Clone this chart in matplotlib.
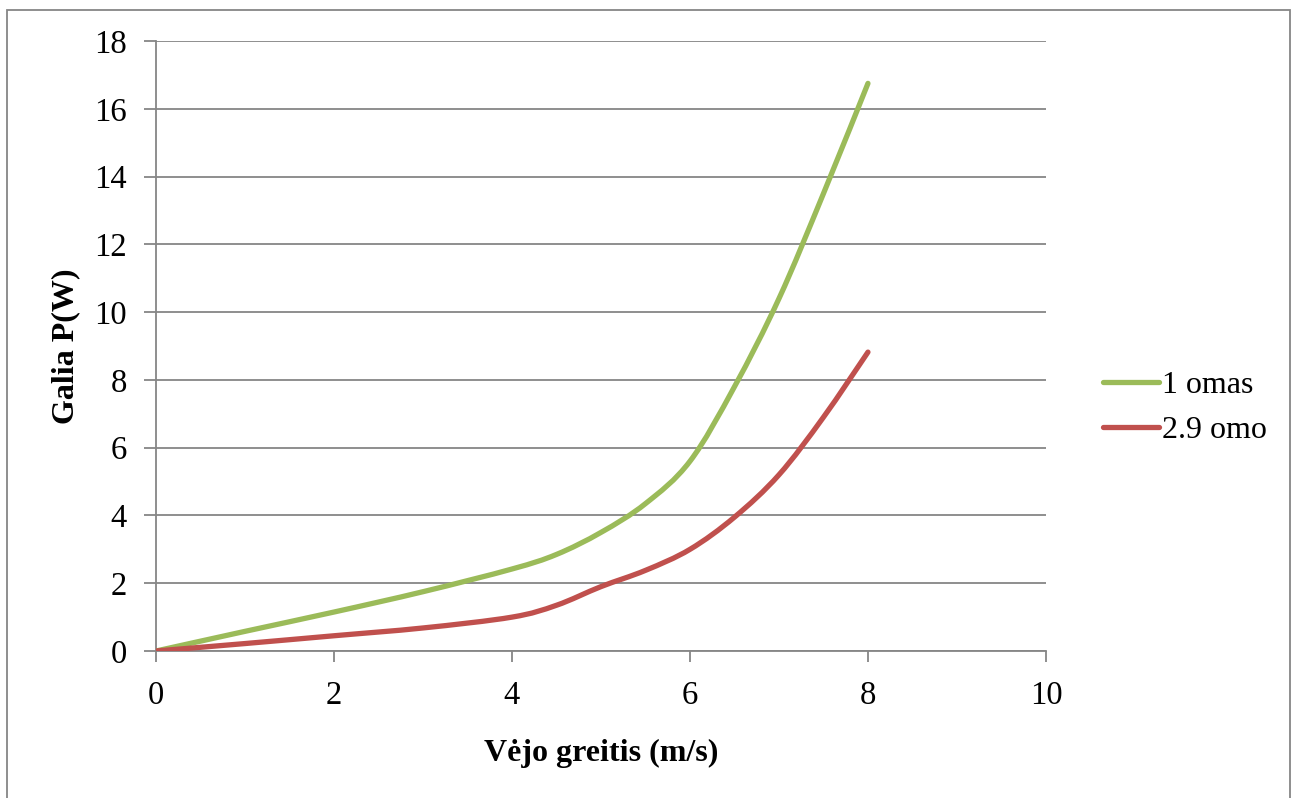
import numpy as np
import matplotlib.pyplot as plt
from matplotlib.path import Path
from matplotlib.patches import PathPatch, Rectangle
from matplotlib.lines import Line2D

plt.rcParams['font.family'] = ['Liberation Serif', 'DejaVu Serif']

# data
green_x = [0, 1, 2, 3, 4, 4.5, 5, 5.5, 6, 6.5, 7, 7.5, 8]
green_y = [0, 0.58, 1.15, 1.75, 2.42, 2.85, 3.5, 4.35, 5.6, 7.8, 10.4, 13.5, 16.75]
red_x = [0, 1, 2, 3, 4, 4.5, 5, 5.5, 6, 6.5, 7, 7.5, 8]
red_y = [0, 0.22, 0.45, 0.68, 1.0, 1.35, 1.9, 2.38, 3.0, 3.95, 5.2, 6.9, 8.82]
labels = ['1 omas', '2.9 omo']
colors = ['#9BBB59', '#C0504D']

xticks = [0, 2, 4, 6, 8, 10]
yticks = [0, 2, 4, 6, 8, 10, 12, 14, 16, 18]


def smooth_path(x, y):
    # Excel-like smoothed line: Catmull-Rom as cubic Bezier
    p = np.column_stack([x, y]).astype(float)
    n = len(p)
    verts = [p[0]]
    codes = [Path.MOVETO]
    for i in range(n - 1):
        p0 = p[i - 1] if i > 0 else p[i]
        p3 = p[i + 2] if i + 2 < n else p[i + 1]
        c1 = p[i] + (p[i + 1] - p0) / 6
        c2 = p[i + 1] - (p3 - p[i]) / 6
        verts += [c1, c2, p[i + 1]]
        codes += [Path.CURVE4] * 3
    return Path(verts, codes)


fig = plt.figure(figsize=(12.99, 7.98), dpi=100)
ax = fig.add_axes([0.1201, 0.1842, 0.6851, 0.7644])

grid_c = '#868686'
for s, (xs, ys) in enumerate([(green_x, green_y), (red_x, red_y)]):
    patch = PathPatch(smooth_path(xs, ys), facecolor='none', edgecolor=colors[s],
                      lw=3.8, capstyle='round', joinstyle='round', zorder=3)
    ax.add_patch(patch)

ax.set_xlim(0, 10)
ax.set_ylim(0, 18)
ax.set_xticks(xticks)
ax.set_yticks(yticks)
ax.yaxis.grid(True, color=grid_c, lw=1.3)
ax.set_axisbelow(True)
for side in ['top', 'right']:
    ax.spines[side].set_visible(False)
ax.spines['left'].set_color(grid_c)
ax.spines['bottom'].set_color(grid_c)
ax.spines['left'].set_linewidth(1.3)
ax.spines['bottom'].set_linewidth(1.3)
ax.tick_params(axis='y', direction='out', length=9, width=1.3, color=grid_c,
               labelsize=23.5, pad=12)
ax.tick_params(axis='x', direction='out', length=8, width=1.3, color=grid_c,
               labelsize=23.5, pad=13)

ax.set_xlabel('Vėjo greitis (m/s)', fontsize=23, fontweight='bold', labelpad=20)
ax.set_ylabel('Galia P(W)', fontsize=23, fontweight='bold', labelpad=10)

handles = [Line2D([], [], color=c, lw=3.8, solid_capstyle='round') for c in colors]
fig.legend(handles, labels, loc='center left', bbox_to_anchor=(1090 / 1299, 1 - 408 / 798),
           frameon=False, fontsize=23, handlelength=1.75, handletextpad=0.1,
           labelspacing=0.5, borderaxespad=0)

fig.patches.append(Rectangle((7 / 1299, -0.05), 1283 / 1299, 1.05 - 10 / 798,
                             transform=fig.transFigure, fill=False,
                             edgecolor=grid_c, lw=1.3))

fig.savefig('out.png', dpi=100)
